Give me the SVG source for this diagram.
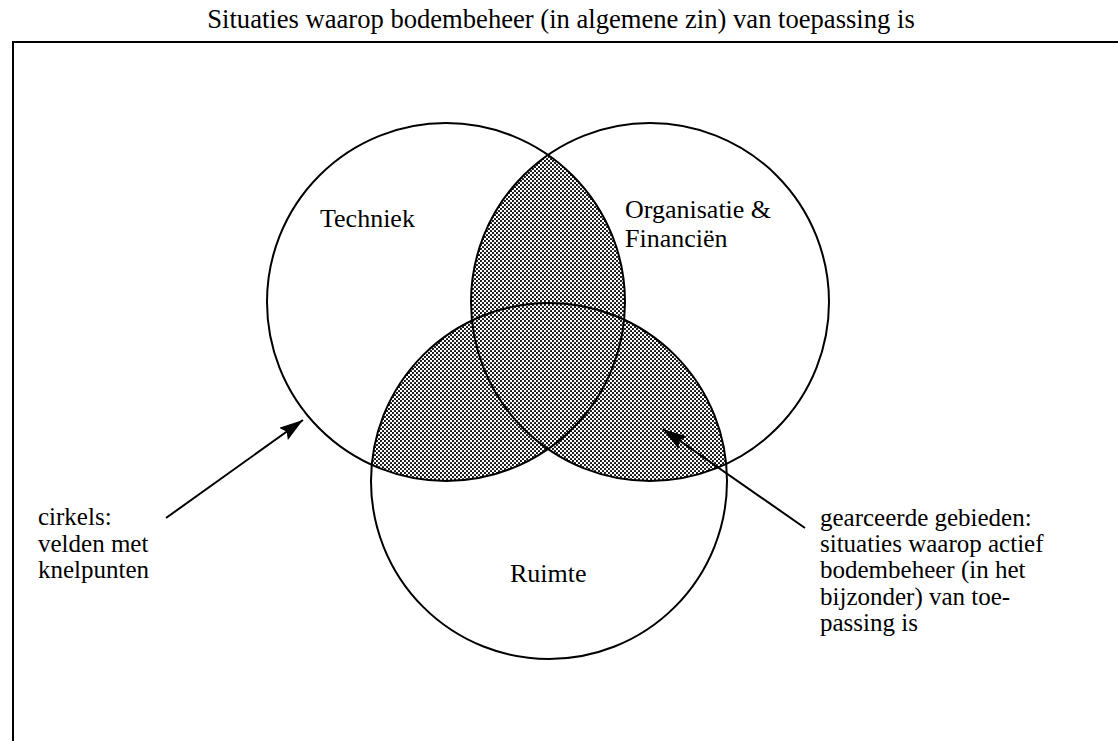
<svg xmlns="http://www.w3.org/2000/svg" width="1118" height="741" viewBox="0 0 1118 741">
<style>
  text { font-family: "Liberation Serif", "Times New Roman", serif; font-size: 26px; fill: #000; }
  .title { font-size: 26.6px; }
  .note { font-size: 25px; }
  .circ { fill: none; stroke: #000; stroke-width: 2; }
  .frame { fill: none; stroke: #000; stroke-width: 2; }
  .conn { fill: none; stroke: #000; stroke-width: 2; }
  .shade { fill: url(#dots); stroke: none; }
</style>
<defs>
  <pattern id="dots" patternUnits="userSpaceOnUse" width="4" height="4">
    <rect width="4" height="4" fill="#fff"/>
    <circle cx="1" cy="1" r="1.05" fill="#000"/>
    <circle cx="3" cy="3" r="1.05" fill="#000"/>
  </pattern>
  <clipPath id="clipT"><circle cx="446" cy="302" r="179"/></clipPath>
  <clipPath id="clipO"><circle cx="650" cy="302" r="179"/></clipPath>
  <marker id="arrow" viewBox="0 0 24 15" refX="24" refY="7.5" markerWidth="24" markerHeight="15" markerUnits="userSpaceOnUse" orient="auto">
    <path d="M0,0 L24,7.5 L0,15 L4,7.5 z" fill="#000"/>
  </marker>
</defs>
<rect width="1118" height="741" fill="#fff"/>
<text id="title" class="title" x="561" y="28" text-anchor="middle">Situaties waarop bodembeheer (in algemene zin) van toepassing is</text>
<path class="frame" d="M13,741 L13,42 L1118,42"/>
<g id="shading">
  <circle class="shade" cx="650" cy="302" r="179" clip-path="url(#clipT)"/>
  <circle class="shade" cx="549" cy="481" r="178" clip-path="url(#clipT)"/>
  <circle class="shade" cx="549" cy="481" r="178" clip-path="url(#clipO)"/>
</g>
<g id="techniek">
  <circle class="circ" cx="446" cy="302" r="179"/>
  <text x="320" y="227">Techniek</text>
</g>
<g id="organisatie">
  <circle class="circ" cx="650" cy="302" r="179"/>
  <text x="625" y="218">Organisatie &amp;</text>
  <text x="625" y="247">Financiën</text>
</g>
<g id="ruimte">
  <circle class="circ" cx="549" cy="481" r="178"/>
  <text x="510" y="582">Ruimte</text>
</g>
<g id="note-cirkels" class="note">
  <text class="note" x="38" y="525">cirkels:</text>
  <text class="note" x="38" y="552">velden met</text>
  <text class="note" x="38" y="578">knelpunten</text>
</g>
<g id="note-gearceerd">
  <text class="note" x="820" y="526">gearceerde gebieden:</text>
  <text class="note" x="820" y="552">situaties waarop actief</text>
  <text class="note" x="820" y="578">bodembeheer (in het</text>
  <text class="note" x="820" y="605">bijzonder) van toe-</text>
  <text class="note" x="820" y="631">passing is</text>
</g>
<g id="connectors">
  <line class="conn" x1="166" y1="518" x2="303" y2="420" marker-end="url(#arrow)"/>
  <line class="conn" x1="805" y1="528" x2="663" y2="429" marker-end="url(#arrow)"/>
</g>
</svg>
